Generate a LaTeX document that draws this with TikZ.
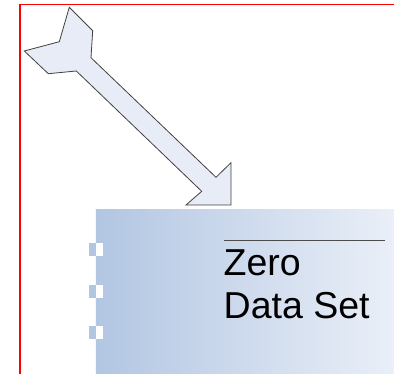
\documentclass[tikz,border=0pt]{standalone}
\usepackage{fontspec}
\setmainfont{Liberation Sans}
\usepackage{tikz}
\usetikzlibrary{positioning}
\definecolor{framered}{RGB}{255,0,0}
\definecolor{arrowfill}{RGB}{232,236,246}
\definecolor{boxleft}{RGB}{178,198,226}
\definecolor{boxright}{RGB}{234,239,248}
\tikzstyle{databox}=[rectangle,inner sep=0pt,left color=boxleft,right color=boxright,
                  minimum width=298.3pt,minimum height=165pt,anchor=north west]
\tikzstyle{bigarrow}=[fill=arrowfill,draw=black!75,line width=0.8pt,line join=miter]
\tikzstyle{boxlabel}=[anchor=base west,inner sep=0pt,align=left,
                  font=\fontsize{37.5}{43.3}\selectfont]

\begin{document}
\begin{tikzpicture}[x=1pt,y=-1pt]
      \useasboundingbox (0,0) rectangle (394,374);
      \clip (0,0) rectangle (394,374);
      % frame
      \draw[framered,line width=1.3pt] (20,4.5) rectangle (420,400);
      % data set box
      \node[databox] (zero) at (95.7,209) {};
      \foreach \ty in {243.3,285,326}{
        \fill[boxleft] (89,\ty) rectangle (95.7,\ty+12.7);
        \fill[white] (95.7,\ty) rectangle (102.7,\ty+12.7);
      }
      \coordinate (rulel) at (224,240);
      \coordinate (ruler) at (385,240);
      \draw[black!70,line width=0.8pt] (rulel) -- (ruler);
      \node[boxlabel] (name) at (223.5,318.3) {Zero\\Data Set};
      % block arrow
      \draw[bigarrow] (69.3,7.3) -- (92.7,30.7) -- (91,57.7) -- (216,177.3)
        -- (231,162.7) -- (231,205) -- (186,205) -- (201.7,191.3)
        -- (76.3,71) -- (48.3,73.7) -- (24.3,51) -- (59.3,41.7) -- cycle;
    \end{tikzpicture}
\end{document}
